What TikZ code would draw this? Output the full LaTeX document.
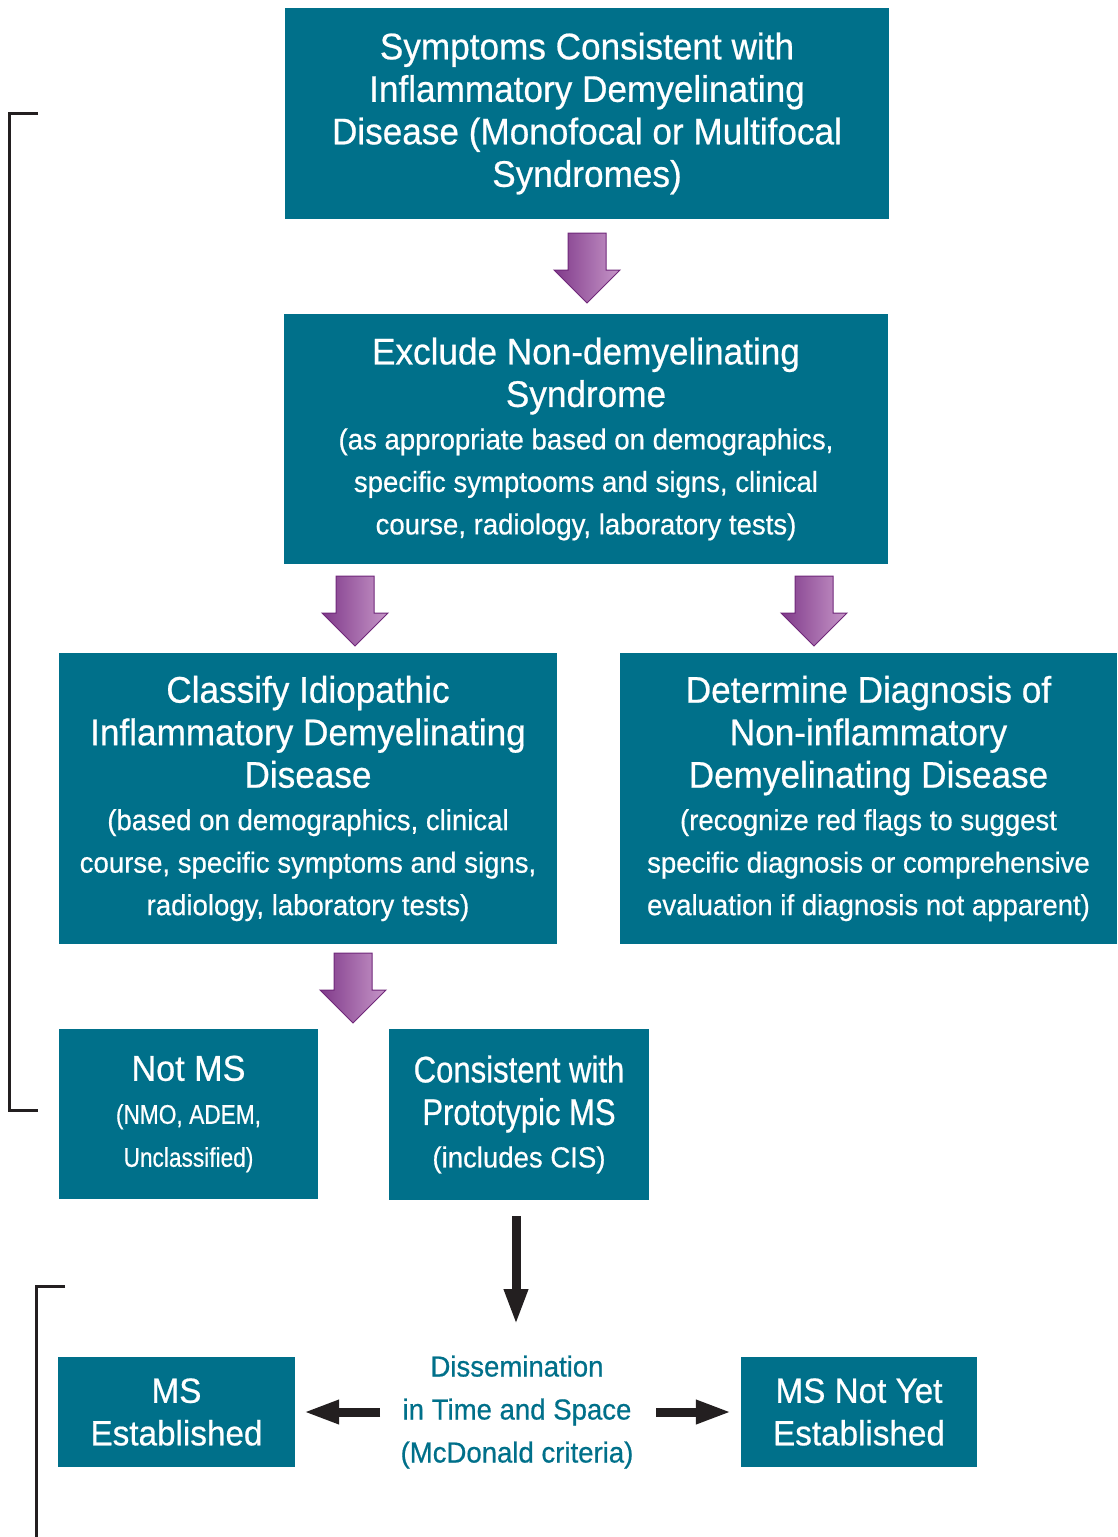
\documentclass[tikz,border=0pt]{standalone}
\usepackage{fontspec}
\setmainfont{Liberation Sans}[FakeStretch=0.95,FakeBold=0.6]
\newfontfamily\condf{Liberation Sans}[FakeStretch=0.84,FakeBold=0.6]
\usetikzlibrary{arrows.meta}
\definecolor{teal}{RGB}{0,112,138}
\definecolor{pdark}{RGB}{128,58,138}
\definecolor{plight}{RGB}{198,150,200}
\definecolor{pedge}{RGB}{112,40,122}
\definecolor{ink}{RGB}{35,31,32}
\newcommand\ttl{\fontsize{37}{42.5}\selectfont\spaceskip=9.8pt plus 2pt\relax}
\newcommand\sbt{\fontsize{29}{42.5}\selectfont\spaceskip=7.7pt plus 2pt\relax}
\newcommand\parw[2]{%
  \shade[left color=pdark, right color=plight, draw=pedge, line width=1pt, line join=miter]
    (#1-19,#2) -- (#1+19,#2) -- (#1+19,#2+37) -- (#1+33,#2+37) -- (#1,#2+70)
    -- (#1-33,#2+37) -- (#1-19,#2+37) -- cycle;}
\begin{document}
\begin{tikzpicture}[x=1pt,y=-1pt,
  tbox/.style={fill=teal, text=white, inner sep=0pt},
  blk/.style={draw=ink, line width=9pt, -{Triangle[length=36pt,width=22pt]}},
  brk/.style={draw=ink, line width=3pt, line cap=butt}]
\useasboundingbox (0,0) rectangle (1118,1537);
\fill[white] (0,0) rectangle (1118,1537);

\node[tbox, text width=604pt, minimum height=211pt] (sym) at (587,113.5)
  {\centering\ttl Symptoms Consistent with\\Inflammatory Demyelinating\\Disease (Monofocal or Multifocal\\Syndromes)\par};

\node[tbox, text width=604pt, minimum height=250pt] (excl) at (586,439)
  {\centering\ttl Exclude Non-demyelinating\\Syndrome\\\sbt (as appropriate based on demographics,\\specific symptooms and signs, clinical\\course, radiology, laboratory tests)\par};

\node[tbox, text width=498pt, minimum height=291pt] (cls) at (308,798.5)
  {\centering\ttl Classify Idiopathic\\Inflammatory Demyelinating\\Disease\\\sbt (based on demographics, clinical\\course, specific symptoms and signs,\\radiology, laboratory tests)\par};

\node[tbox, text width=497pt, minimum height=291pt] (det) at (868.5,798.5)
  {\centering\ttl Determine Diagnosis of\\Non-inflammatory\\Demyelinating Disease\\\sbt (recognize red flags to suggest\\specific diagnosis or comprehensive\\evaluation if diagnosis not apparent)\par};

\node[tbox, text width=259pt, minimum height=170pt] (notms) at (188.5,1114)
  {\centering\fontsize{36}{43}\selectfont\spaceskip=9.5pt\relax Not MS\\\condf\fontsize{27}{43}\selectfont\spaceskip=6.5pt\relax (NMO, ADEM,\\Unclassified)\par};

\node[tbox, text width=260pt, minimum height=171pt] (cons) at (519,1114.5)
  {\centering\condf\fontsize{37}{42.5}\selectfont\spaceskip=8.5pt\relax Consistent with\\Prototypic MS\\\rmfamily\sbt (includes CIS)\par};

\node[tbox, text width=237pt, minimum height=110pt] (mse) at (176.5,1412)
  {\centering\fontsize{35}{42.5}\selectfont\spaceskip=9.2pt\relax MS\\Established\par};

\node[tbox, text width=236pt, minimum height=110pt] (msn) at (859,1412)
  {\centering\fontsize{35}{42.5}\selectfont\spaceskip=9.2pt\relax MS Not Yet\\Established\par};

\node[text=teal, inner sep=0pt, text width=250pt] (diss) at (517,1412)
  {\centering\fontsize{29}{43}\selectfont\spaceskip=7.7pt\relax Dissemination\\in Time and Space\\(McDonald criteria)\par};

\parw{587}{233}
\parw{355}{576}
\parw{814}{576}
\parw{353}{953}

\coordinate (dtop) at (516,1325);
\coordinate (ls) at (380,1412);
\coordinate (rs) at (656,1412);
\draw[blk] ([xshift=-3pt,yshift=-16pt]cons.south) -- (dtop);
\draw[blk, shorten >=8pt] (ls) -- (mse.east);
\draw[blk, shorten >=9pt] (rs) -- (msn.west);

\draw[brk] (38,113) -- (9,113) -- (9,1110) -- (38,1110);
\draw[brk] (65,1286) -- (36,1286) -- (36,1537);
\end{tikzpicture}
\end{document}
